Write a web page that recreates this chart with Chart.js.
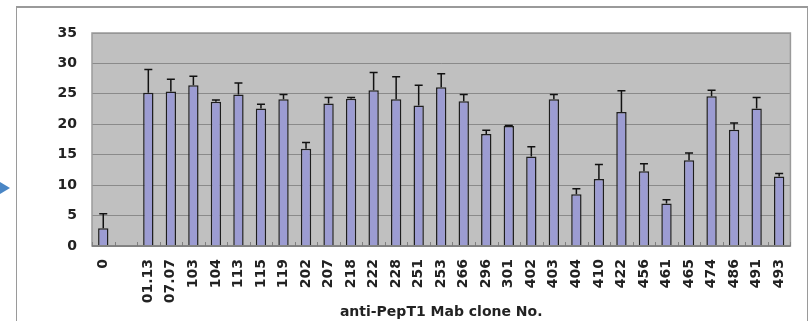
<!DOCTYPE html>
<html>
<head>
<meta charset="utf-8">
<script src="https://cdn.jsdelivr.net/npm/chart.js@4/dist/chart.umd.min.js"></script>
<style>
  html, body { margin: 0; padding: 0; background: #fff; overflow: hidden; }
  #frame { position: absolute; left: 16px; top: 6px; width: 790px; height: 400px; border: 1px solid #9a9a9a; border-top-width: 2px; }
  #arrow { position: absolute; left: 0; top: 182px; width: 0; height: 0;
           border-top: 6px solid transparent; border-bottom: 6px solid transparent; border-left: 10px solid #4a86c5; }
  #wrap { position: absolute; left: 0; top: 0; width: 809px; height: 321px; }
</style>
</head>
<body>
<div id="frame"></div>
<div id="arrow"></div>
<div id="wrap"><canvas id="grafico"></canvas></div>
<script>
const clones = ["0", "", "01.13", "07.07", "103", "104", "113", "115", "119", "202", "207", "218",
  "222", "228", "251", "253", "266", "296", "301", "402", "403", "404", "410", "422", "456",
  "461", "465", "474", "486", "491", "493"];
const valores = [2.9, null, 25.2, 25.4, 26.4, 23.7, 24.9, 22.6, 24.1, 16.0, 23.4, 24.2,
  25.6, 24.1, 23.1, 26.1, 23.8, 18.4, 19.7, 14.7, 24.1, 8.5, 11.0, 22.0, 12.3,
  7.0, 14.1, 24.6, 19.1, 22.6, 11.4];
const errores = [2.4, null, 3.8, 2.0, 1.5, 0.3, 1.9, 0.7, 0.8, 1.0, 1.0, 0.2,
  2.9, 3.7, 3.3, 2.2, 1.1, 0.6, 0.1, 1.6, 0.8, 0.9, 2.4, 3.5, 1.2,
  0.6, 1.2, 1.0, 1.1, 1.8, 0.5];
const yTicks = [0, 5, 10, 15, 20, 25, 30, 35];

const fondo = {
  id: "fondo",
  beforeDraw(chart) {
    const { ctx, chartArea: a } = chart;
    ctx.save();
    ctx.fillStyle = "#c0c0c0";
    ctx.fillRect(a.left, a.top, a.right - a.left, a.bottom - a.top);
    ctx.restore();
  },
  afterDraw(chart) {
    const { ctx, chartArea: a } = chart;
    const xs = chart.scales.x;
    ctx.save();
    ctx.strokeStyle = "#9a9a9a";
    ctx.lineWidth = 1.5;
    ctx.strokeRect(a.left, a.top, a.right - a.left, a.bottom - a.top);
    // small inward tick marks between categories
    ctx.strokeStyle = "#808080";
    ctx.lineWidth = 1;
    const paso = xs.getPixelForValue(1) - xs.getPixelForValue(0);
    for (let i = 0; i <= clones.length; i++) {
      const x = Math.round(xs.getPixelForValue(i) - paso / 2) + 0.5;
      ctx.beginPath();
      ctx.moveTo(x, a.bottom);
      ctx.lineTo(x, a.bottom - 4);
      ctx.stroke();
    }
    ctx.strokeStyle = "#7a7a7a";
    ctx.lineWidth = 1.5;
    ctx.beginPath();
    ctx.moveTo(a.left, a.bottom);
    ctx.lineTo(a.right, a.bottom);
    ctx.stroke();
    ctx.restore();
  },
};

const barrasError = {
  id: "barrasError",
  afterDatasetsDraw(chart) {
    const { ctx } = chart;
    const ys = chart.scales.y;
    const meta = chart.getDatasetMeta(0);
    ctx.save();
    ctx.strokeStyle = "#111";
    ctx.lineWidth = 1.5;
    meta.data.forEach((bar, i) => {
      if (valores[i] == null) return;
      const yTop = ys.getPixelForValue(valores[i] + errores[i]);
      ctx.beginPath();
      ctx.moveTo(bar.x, bar.y);
      ctx.lineTo(bar.x, yTop);
      ctx.moveTo(bar.x - 4, yTop);
      ctx.lineTo(bar.x + 4, yTop);
      ctx.stroke();
    });
    ctx.restore();
  },
};

new Chart(document.getElementById("grafico"), {
  type: "bar",
  data: {
    labels: clones,
    datasets: [
      {
        data: valores,
        backgroundColor: "#9c9cd2",
        borderColor: "#1e1e1e",
        borderWidth: 1.5,
        borderSkipped: "bottom",
        categoryPercentage: 1,
        barPercentage: 0.46,
      },
    ],
  },
  options: {
    responsive: true,
    maintainAspectRatio: false,
    animation: false,
    layout: { padding: { left: 20, right: 3, top: 33, bottom: 0 } },
    plugins: { legend: { display: false }, tooltip: { enabled: false } },
    scales: {
      x: {
        grid: { display: false, drawTicks: false },
        border: { display: false },
        ticks: {
          color: "#222",
          font: { family: "DejaVu Sans", size: 14, weight: "bold" },
          minRotation: 90,
          maxRotation: 90,
          autoSkip: false,
          padding: 13,
        },
        title: {
          display: true,
          text: "anti-PepT1 Mab clone No.",
          color: "#222",
          font: { family: "DejaVu Sans", size: 14, weight: "bold" },
          padding: { top: 0, bottom: 0 },
        },
        afterFit: (s) => { s.height = 75; },
      },
      y: {
        min: 0,
        max: 35,
        afterBuildTicks: (s) => { s.ticks = yTicks.map((v) => ({ value: v })); },
        grid: { color: "#8a8a8a", lineWidth: 1, drawTicks: false },
        border: { display: false },
        ticks: {
          color: "#222",
          font: { family: "DejaVu Sans", size: 14, weight: "bold" },
          padding: 15,
        },
        afterFit: (s) => { s.width = 72; },
      },
    },
  },
  plugins: [fondo, barrasError],
});
</script>
</body>
</html>
